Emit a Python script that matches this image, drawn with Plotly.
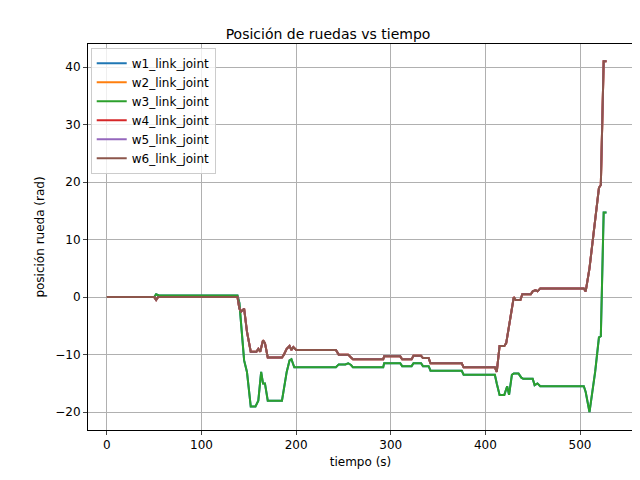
import plotly.graph_objects as go

# tiempo / posición (rad)
t_verde = [0, 50, 52, 55, 138, 140, 142, 145, 148, 152, 157, 160, 163, 165, 167, 170, 185, 187, 190, 193, 195, 198,
           242, 245, 252, 255, 258, 260, 292, 293, 310, 312, 322, 324, 332, 334, 340, 342, 375, 377, 410, 412, 415,
           420, 423, 425, 428, 430, 435, 438, 440, 450, 452, 455, 458, 504, 506, 510, 516, 520, 522, 525, 528]
y_verde = [0, 0, 0.5, 0.3, 0.3, -1, -5, -11, -13, -19, -19, -18, -13, -15, -15, -18, -18, -16, -13, -11, -10.8, -12.2,
           -12.2, -11.7, -11.7, -11.5, -11.8, -12.2, -12.2, -11.5, -11.5, -12, -12, -11.5, -11.5, -12, -12, -12.8,
           -12.8, -13.5, -13.5, -15, -17, -17, -15.5, -17, -13.5, -13.3, -13.3, -14, -14.2, -14.2, -15.3, -15,
           -15.5, -15.5, -16.5, -20, -13, -7, -6.8, 14.7, 14.7]

t_marron = [0, 50, 52, 54, 138, 140, 142, 145, 148, 152, 158, 160, 162, 165, 167, 170, 185, 187, 190, 193, 195, 197,
            200, 242, 245, 255, 258, 260, 292, 293, 310, 312, 322, 324, 332, 334, 340, 342, 375, 377, 410, 412, 415,
            420, 422, 425, 430, 432, 437, 439, 448, 450, 453, 455, 458, 504, 506, 510, 520, 522, 525, 528]
y_marron = [0, 0, -0.5, 0, 0, -2, -2.5, -2, -6, -9.5, -9.5, -9, -9.5, -7.5, -8, -10.5, -10.5, -10, -9, -8.5, -9.2,
            -8.7, -9.2, -9.2, -10, -10, -10.5, -10.8, -10.8, -10.3, -10.3, -10.8, -10.8, -10.2, -10.2, -10.6, -10.6,
            -11.5, -11.5, -12.2, -12.2, -13, -8.5, -8.5, -8, -5, 0, -0.5, -0.5, 0.5, 0.5, 1, 1.2, 1, 1.5, 1.5, 1, 5,
            19, 19.5, 41, 41]

nombres = ['w1_link_joint', 'w2_link_joint', 'w3_link_joint', 'w4_link_joint', 'w5_link_joint', 'w6_link_joint']
colores = ['#1f77b4', '#ff7f0e', '#2ca02c', '#d62728', '#9467bd', '#8c564b']
datos = [(t_verde, y_verde), (t_marron, y_marron), (t_verde, y_verde),
         (t_marron, y_marron), (t_marron, y_marron), (t_marron, y_marron)]

fig = go.Figure()
for nombre, color, (t, y) in zip(nombres, colores, datos):
    fig.add_trace(go.Scatter(x=t, y=y, mode='lines', name=nombre, line=dict(color=color, width=2)))

eje = dict(showline=True, linecolor='black', mirror=True, ticks='outside', ticklen=4, automargin=False,
           showgrid=True, gridcolor='#b0b0b0', zeroline=False, tickfont=dict(size=12, color='black'))

fig.update_layout(
    width=640, height=480,
    paper_bgcolor='white', plot_bgcolor='white',
    font=dict(family='DejaVu Sans', size=12, color='black'),
    title=dict(text='Posición de ruedas vs tiempo', x=0.5, xanchor='center', y=0.955, font=dict(size=14)),
    margin=dict(l=80, r=15, t=36, b=58, autoexpand=False),
    xaxis=dict(eje, range=[-20, 556], tickvals=[0, 100, 200, 300, 400, 500],
               title=dict(text='tiempo (s)', standoff=6, font=dict(size=12))),
    yaxis=dict(eje, range=[-23.1, 44], tickvals=[-20, -10, 0, 10, 20, 30, 40],
               title=dict(text='posición rueda (rad)', standoff=8, font=dict(size=12))),
    legend=dict(x=0.005, y=0.99, xanchor='left', yanchor='top', bgcolor='rgba(255,255,255,0.8)',
                bordercolor='#cccccc', borderwidth=1, font=dict(size=12), tracegroupgap=0),
)

fig.write_html("out.html")
